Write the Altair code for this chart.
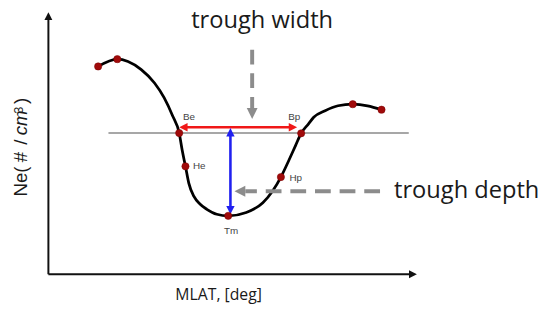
import altair as alt
import pandas as pd

# ---------------- schematic data (arbitrary units: MLAT 0-100, Ne 0-100) ----------------
curve_mlat = [13.5, 18.7, 21.6, 25.2, 28.8, 31.4, 33.7, 35.5, 36.3, 37.2, 38.1, 39.5, 41.2, 43.0,
              45.7, 48.8, 53.7, 58.2, 60.8, 63.1, 65.3, 67.1, 68.6, 70.6, 72.0, 75.1, 78.6, 82.6,
              86.6, 90.4]
curve_ne = [79.3, 82.1, 81.2, 78.1, 73.0, 67.4, 60.5, 53.9, 47.4, 41.2, 34.8, 29.7, 26.7, 24.8,
            22.9, 22.3, 23.6, 27.3, 31.7, 37.1, 43.6, 49.2, 53.8, 57.4, 59.9, 62.4, 64.3, 64.9,
            64.3, 62.8]

marker_label = ["", "", "Be", "He", "Tm", "Hp", "Bp", "", ""]
marker_mlat = [13.5, 18.7, 35.5, 37.2, 48.8, 63.1, 68.6, 82.6, 90.4]
marker_ne = [79.3, 82.1, 53.9, 41.2, 22.3, 37.1, 53.8, 64.9, 62.8]

threshold_ne = 53.9
threshold_mlat = [16.3, 97.8]

width_arrow_mlat = [35.5, 67.5]      # red double arrow (trough width)
width_arrow_ne = 56.1

depth_arrow_mlat = 49.4              # blue double arrow (trough depth)
depth_arrow_ne = [55.8, 22.9]

width_pointer_mlat = 55.3            # dashed pointer: start, tip
width_pointer_ne = [85.7, 59.3]

depth_pointer_ne = 31.7
depth_pointer_mlat = [90.0, 50.5]

axis_end = 100

# ---------------- helpers ----------------
PX_X = 3.743   # px per unit (x)
PX_Y = 2.66    # px per unit (y)

xs = alt.Scale(domain=[0, 100], nice=False, zero=False)
ys = alt.Scale(domain=[0, 100], nice=False, zero=False)
X = alt.X("x:Q", scale=xs, axis=None)
Y = alt.Y("y:Q", scale=ys, axis=None)

HEAD = {
    "left": "M0,0L1,-0.5L1,0.5Z",
    "right": "M0,0L-1,-0.5L-1,0.5Z",
    "up": "M0,0L-0.5,1L0.5,1Z",
    "down": "M0,0L-0.5,-1L0.5,-1Z",
}


def seg(x1, y1, x2, y2, **mark):
    df = pd.DataFrame({"x": [x1], "y": [y1], "x2": [x2], "y2": [y2]})
    return alt.Chart(df).mark_rule(**mark).encode(x=X, y=Y, x2="x2:Q", y2="y2:Q")


def head(x, y, direction, length_px, color):
    df = pd.DataFrame({"x": [x], "y": [y]})
    return alt.Chart(df).mark_point(
        shape=HEAD[direction], filled=True, opacity=1, size=(2 * length_px) ** 2,
        color=color, strokeWidth=0
    ).encode(x=X, y=Y)


def text(t, x, y, **mark):
    df = pd.DataFrame({"x": [x], "y": [y], "t": [t]})
    return alt.Chart(df).mark_text(**mark).encode(x=X, y=Y, text="t:N")


layers = []

# axes with arrow heads
AX = "#111111"
layers.append(seg(0, 0, 0, axis_end - 4 / PX_Y, color=AX, strokeWidth=2))
layers.append(seg(0, 0, axis_end - 4 / PX_X, 0, color=AX, strokeWidth=2))
layers.append(head(0, axis_end, "up", 8, AX))
layers.append(head(axis_end, 0, "right", 8, AX))

# threshold line
layers.append(seg(threshold_mlat[0], threshold_ne, threshold_mlat[1], threshold_ne,
                  color="#8a8a8a", strokeWidth=1.4))

# curve
curve_df = pd.DataFrame({"x": curve_mlat, "y": curve_ne})
layers.append(alt.Chart(curve_df).mark_line(color="#000000", strokeWidth=2.8,
                                             interpolate="monotone").encode(x=X, y=Y))

# red width arrow
RED = "#f01818"
layers.append(seg(width_arrow_mlat[0] + 4 / PX_X, width_arrow_ne,
                  width_arrow_mlat[1] - 4 / PX_X, width_arrow_ne, color=RED, strokeWidth=2.6))
layers.append(head(width_arrow_mlat[0], width_arrow_ne, "left", 8.5, RED))
layers.append(head(width_arrow_mlat[1], width_arrow_ne, "right", 8.5, RED))

# blue depth arrow
BLUE = "#2020f0"
layers.append(seg(depth_arrow_mlat, depth_arrow_ne[0] - 4 / PX_Y,
                  depth_arrow_mlat, depth_arrow_ne[1] + 4 / PX_Y, color=BLUE, strokeWidth=2.6))
layers.append(head(depth_arrow_mlat, depth_arrow_ne[0], "up", 8.5, BLUE))
layers.append(head(depth_arrow_mlat, depth_arrow_ne[1], "down", 8.5, BLUE))

# dashed gray pointers
GRAY = "#8c8c8c"
layers.append(seg(width_pointer_mlat, width_pointer_ne[0],
                  width_pointer_mlat, width_pointer_ne[1] + 11 / PX_Y,
                  color=GRAY, strokeWidth=4, strokeDash=[15, 9]))
layers.append(head(width_pointer_mlat, width_pointer_ne[1], "down", 11, GRAY))
layers.append(seg(depth_pointer_mlat[0], depth_pointer_ne,
                  depth_pointer_mlat[1] + 11 / PX_X, depth_pointer_ne,
                  color=GRAY, strokeWidth=4, strokeDash=[16, 9]))
layers.append(head(depth_pointer_mlat[1], depth_pointer_ne, "left", 11, GRAY))

# markers
mk_df = pd.DataFrame({"x": marker_mlat, "y": marker_ne, "label": marker_label})
layers.append(alt.Chart(mk_df).mark_circle(color="#a00a0a", size=55, opacity=1,
                                            stroke="#7a0000", strokeWidth=0.5).encode(x=X, y=Y))

# marker labels
LABEL_OFFSETS = {"Be": (10, -16), "Bp": (-7, -16), "He": (14, 0), "Hp": (15, 1), "Tm": (3, 15)}
for name, (dx, dy) in LABEL_OFFSETS.items():
    i = marker_label.index(name)
    layers.append(text(name, marker_mlat[i], marker_ne[i], dx=dx, dy=dy, fontSize=10,
                       font="Liberation Sans", color="#444444", align="center",
                       baseline="middle"))

# annotation texts
layers.append(text("trough width", 58.0, 93.8, font="Open Sans", fontSize=24,
                   color="#1a1a1a", align="center", baseline="alphabetic"))
layers.append(text("trough depth", 93.8, 29.2, font="Open Sans", fontSize=24,
                   color="#1a1a1a", align="left", baseline="alphabetic"))
layers.append(text("MLAT, [deg]", 46.2, -10.0, font="Open Sans", fontSize=16,
                   color="#1a1a1a", align="center", baseline="alphabetic"))

# y title pieces: Ne(#/cm^3)
YT = dict(font="Liberation Sans", color="#1a1a1a", angle=270, align="center",
          baseline="alphabetic")
layers.append(text("Ne(", -5.8, 35.4, fontSize=19, **YT))
layers.append(text("#", -5.8, 44.7, fontSize=19, **YT))
layers.append(text("/", -5.8, 50.4, fontSize=19, **YT))
layers.append(text("cm", -5.8, 57.8, fontSize=19, fontStyle="italic", **YT))
layers.append(text("3", -6.8, 62.6, fontSize=13, **YT))
layers.append(text(")", -5.8, 66.2, fontSize=19, **YT))

chart = alt.layer(*layers).properties(
    width=374, height=266,
    autosize=alt.AutoSizeParams(type="none"),
    padding={"left": 41, "top": 2, "right": 127, "bottom": 36},
    background="white",
).configure_view(stroke=None)

chart.save("out.html", embed_options={"renderer": "svg", "actions": False})
